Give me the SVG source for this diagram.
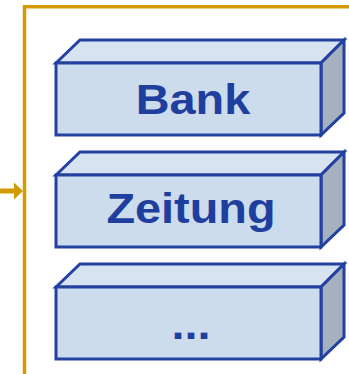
<svg xmlns="http://www.w3.org/2000/svg" width="349" height="374" viewBox="0 0 349 374">
<style>
.front{fill:#ccdcec;stroke:#2341a0;stroke-width:3;stroke-linejoin:miter}
.top{fill:#d7e3f1;stroke:#2341a0;stroke-width:3;stroke-linejoin:miter}
.side{fill:#a5b1bf;stroke:#2341a0;stroke-width:3;stroke-linejoin:miter}
.lbl{font-family:"Liberation Sans",Arial,sans-serif;font-weight:bold;font-size:43px;fill:#1f3f9f;text-anchor:middle}
.gold{fill:none;stroke:#d29b00;stroke-width:3.5}
</style>
<g id="connectors">
<polyline class="gold" points="24.5,374 24.5,6.8 349,6.8"/>
<line x1="0" y1="191" x2="15" y2="191" stroke="#d29b00" stroke-width="5"/>
<polygon points="14,182.5 23,191 14,199.5" fill="#d29b00"/>
</g>
<g id="bank">
<polygon class="top" points="56,63 80,40 344,40 321,63"/>
<polygon class="side" points="321,63 344,40 344,113 321,135"/>
<rect class="front" x="56" y="63" width="265" height="72"/>
<text class="lbl" transform="translate(193,114.3) scale(1.09,1)">Bank</text>
</g>
<g id="zeitung">
<polygon class="top" points="56,175 80,152 344,152 321,175"/>
<polygon class="side" points="321,175 344,152 344,225 321,247"/>
<rect class="front" x="56" y="175" width="265" height="72"/>
<text class="lbl" transform="translate(191,222.7) scale(1.09,1)">Zeitung</text>
</g>
<g id="more">
<polygon class="top" points="56,287 80,264 344,264 321,287"/>
<polygon class="side" points="321,287 344,264 344,337 321,359"/>
<rect class="front" x="56" y="287" width="265" height="72"/>
<text class="lbl" transform="translate(191,338.5) scale(1.09,1)">...</text>
</g>
</svg>
